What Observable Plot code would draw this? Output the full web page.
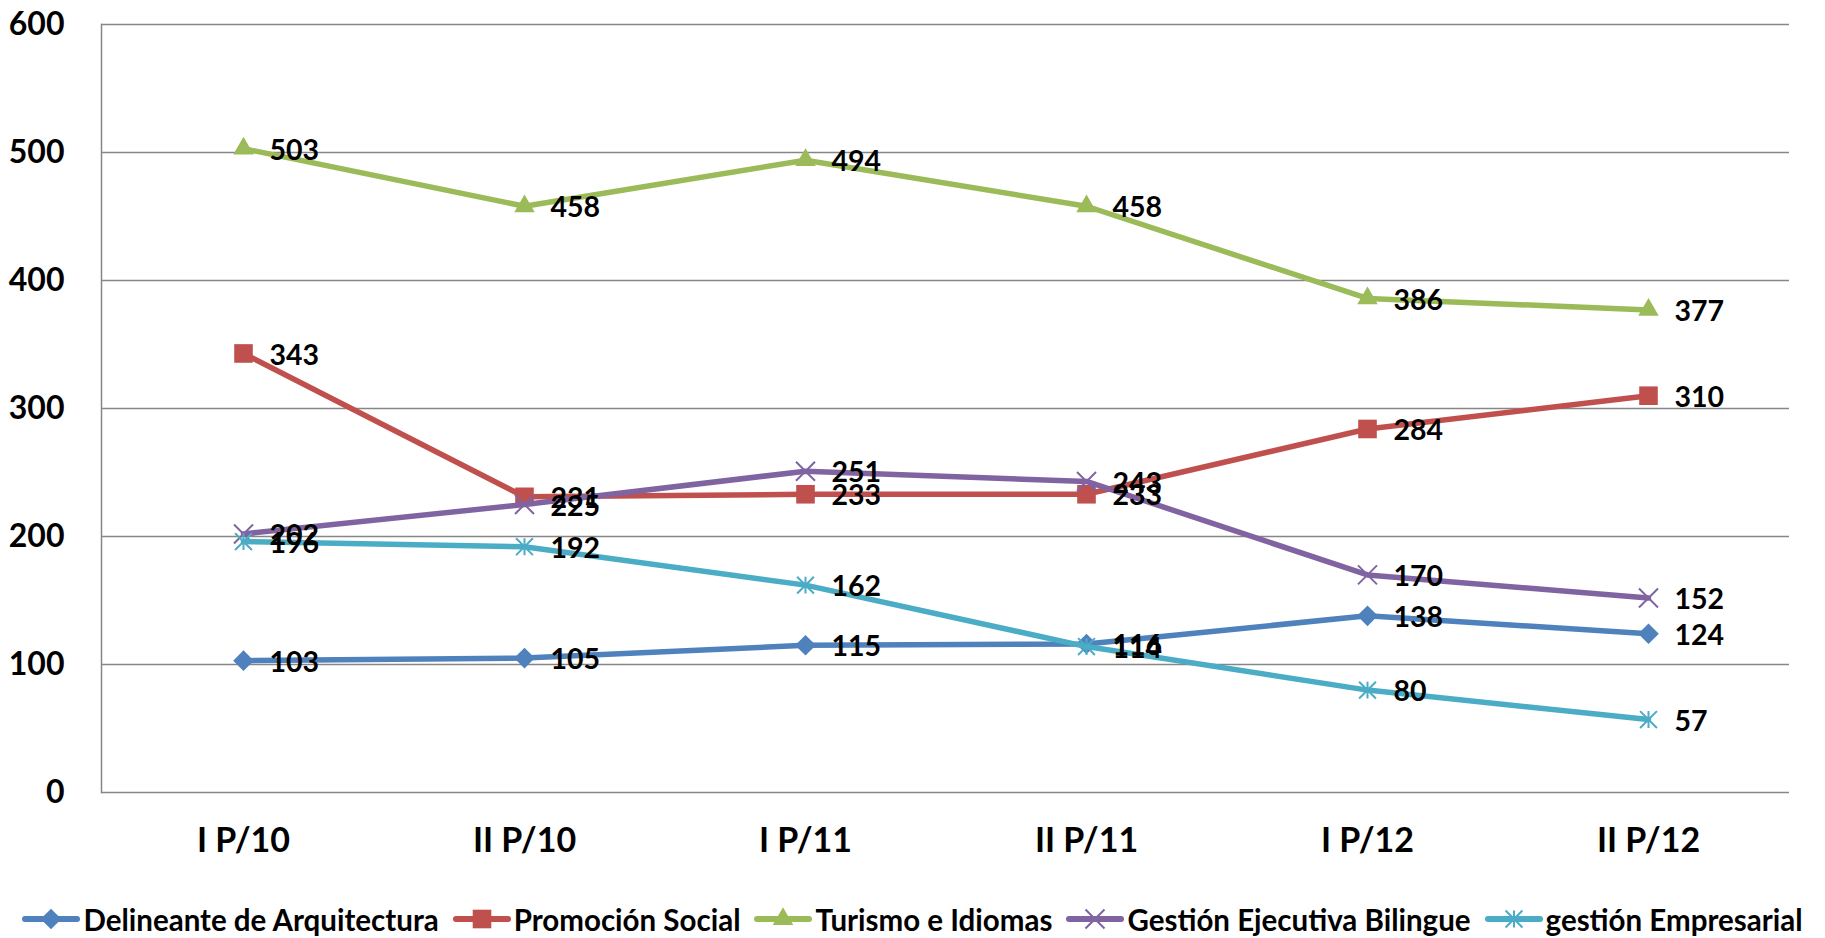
<!DOCTYPE html>
<html><head><meta charset="utf-8">
<script src="https://cdn.jsdelivr.net/npm/d3@7"></script>
<script src="https://cdn.jsdelivr.net/npm/@observablehq/plot@0.6"></script>
<style>
html,body{margin:0;padding:0;background:#fff;overflow:hidden;}
#legend{display:flex;justify-content:center;align-items:center;gap:14px;font-family:Lato,sans-serif;font-weight:bold;font-size:29.5px;height:40px;margin-top:29px;color:#000;}
.item{display:flex;align-items:center;gap:3px;white-space:nowrap;}
</style></head><body><div id="chart"></div><div id="legend"></div>
<script>
const periods = ["I P/10","II P/10","I P/11","II P/11","I P/12","II P/12"];
const seriesNames = ["Delineante de Arquitectura","Promoción Social","Turismo e Idiomas","Gestión Ejecutiva Bilingue","gestión Empresarial"];
const delineante = [103,105,115,116,138,124];
const promocion = [343,231,233,233,284,310];
const turismo = [503,458,494,458,386,377];
const gestionEjecutiva = [202,225,251,243,170,152];
const gestionEmpresarial = [196,192,162,114,80,57];
const yTicks = [0,100,200,300,400,500,600];
const colors = ["#4F81BD","#C0504D","#9BBB59","#8064A2","#4BACC6"];
const starSymbol = {draw(ctx,size){const r=Math.sqrt(size)*0.5;
  ctx.moveTo(-r,-r);ctx.lineTo(r,r);ctx.moveTo(-r,r);ctx.lineTo(r,-r);ctx.moveTo(0,-r);ctx.lineTo(0,r);}};
const symbols = [d3.symbolDiamond2,d3.symbolSquare,d3.symbolTriangle,d3.symbolTimes,starSymbol];
const filled = [true,true,true,false,false];
const symbolR = [9.3,10.5,7.6,8.7,9.5];

const allValues = [delineante,promocion,turismo,gestionEjecutiva,gestionEmpresarial];
const seriesData = allValues.map((vals,i)=>vals.map((v,j)=>({period:periods[j],value:v,series:seriesNames[i]})));

const marks = [
  Plot.gridY(yTicks,{stroke:"#868686",strokeOpacity:1,strokeWidth:1.5}),
  Plot.frame({anchor:"left",stroke:"#868686",strokeWidth:1.5}),
  Plot.axisY(yTicks,{tickSize:0,tickPadding:37,fontSize:32,fontWeight:"bold",fontFamily:"Lato",fill:"#000"}),
  Plot.axisX({tickSize:0,tickPadding:35,fontSize:34,fontWeight:"bold",fontFamily:"Lato",fill:"#000"})
];
seriesData.forEach((d,i)=>{
  marks.push(Plot.line(d,{x:"period",y:"value",stroke:colors[i],strokeWidth:5.5}));
  marks.push(Plot.dot(d,{x:"period",y:"value",symbol:()=>symbols[i],r:symbolR[i],
    fill:filled[i]?colors[i]:"none",stroke:colors[i],strokeWidth:filled[i]?0:2}));
});
seriesData.forEach((d,i)=>{
  marks.push(Plot.text(d,{x:"period",y:"value",text:d=>String(d.value),dx:26,dy:2,textAnchor:"start",
    fontSize:28.5,fontWeight:"bold",fontFamily:"Lato",fill:"#000"}));
});

const chart = Plot.plot({
  width:1825,height:870,
  marginLeft:101,marginRight:36,marginTop:24,marginBottom:78,
  x:{type:"point",domain:periods,padding:0.5,label:null},
  y:{domain:[0,600],label:null},
  symbol:{type:"identity"},
  style:{background:"#fff",fontFamily:"Lato"},
  marks
});
document.getElementById("chart").appendChild(chart);

const legend = d3.select("#legend");
seriesNames.forEach((name,i)=>{
  const item = legend.append("div").attr("class","item");
  const svg = item.append("svg").attr("width",58).attr("height",30);
  svg.append("line").attr("x1",3).attr("x2",55).attr("y1",15).attr("y2",15)
    .attr("stroke",colors[i]).attr("stroke-width",6).attr("stroke-linecap","round");
  svg.append("path").attr("transform","translate(29,15)")
    .attr("d",d3.symbol(symbols[i],Math.PI*symbolR[i]*symbolR[i])())
    .attr("fill",filled[i]?colors[i]:"none").attr("stroke",colors[i]).attr("stroke-width",filled[i]?0:2);
  item.append("span").text(name);
});
</script></body></html>
